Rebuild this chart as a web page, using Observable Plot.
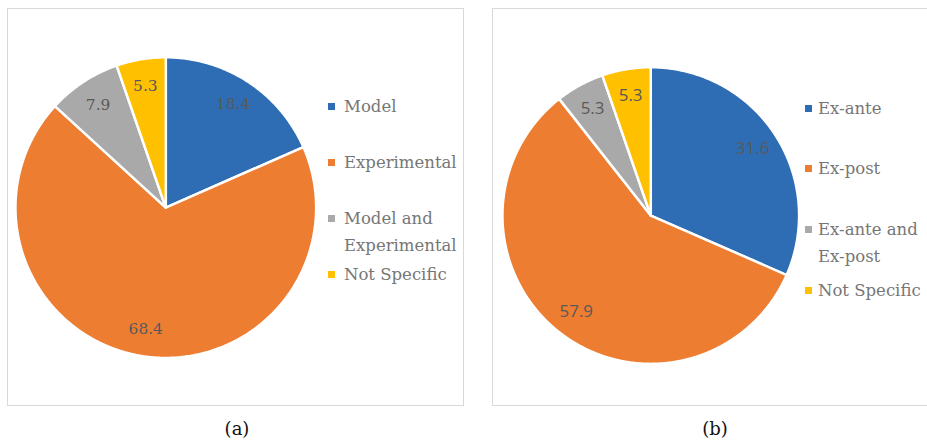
<!DOCTYPE html>
<html>
<head>
<meta charset="utf-8">
<script src="https://cdn.jsdelivr.net/npm/d3@7"></script>
<script src="https://cdn.jsdelivr.net/npm/@observablehq/plot@0.6"></script>
<style>
  html, body { margin: 0; padding: 0; background: #fff; width: 927px; height: 444px; overflow: hidden; }
  .panel { position: absolute; border: 1px solid #d9d9d9; box-sizing: border-box; }
  .panel svg { position: absolute; left: -1px; top: -1px; }
  .leg { position: absolute; font-family: "DejaVu Serif", serif; font-size: 16.5px; color: #767676; line-height: 27px; }
  .leg .sw { position: absolute; width: 7px; height: 7px; }
  .cap { position: absolute; font-family: "DejaVu Serif", serif; font-size: 18px; color: #111; transform: translateX(-50%); }
</style>
</head>
<body>
<div id="root"></div>
<script>
// ---- data ----
const catsA = ["Model", "Experimental", "Model and Experimental", "Not Specific"];
const valsA = [18.4, 68.4, 7.9, 5.3];
const legendA = [["Model"], ["Experimental"], ["Model and", "Experimental"], ["Not Specific"]];

const catsB = ["Ex-ante", "Ex-post", "Ex-ante and Ex-post", "Not Specific"];
const valsB = [31.6, 57.9, 5.3, 5.3];
const legendB = [["Ex-ante"], ["Ex-post"], ["Ex-ante and", "Ex-post"], ["Not Specific"]];

const colors = ["#2E6DB4", "#ED7D31", "#A9A9A9", "#FFC000"];
const captions = ["(a)", "(b)"];

// ---- drawing ----
function pieChart(cats, vals, W, H, cx, cy, r, labelFont, labelSize) {
  const arcs = d3.pie().sort(null).value(d => d)(vals);
  const pts = [];
  arcs.forEach((a, i) => {
    pts.push({k: cats[i], x: 0, y: 0});
    const n = Math.max(2, Math.ceil((a.endAngle - a.startAngle) / 0.01));
    for (let j = 0; j <= n; j++) {
      const t = a.startAngle + (a.endAngle - a.startAngle) * j / n;
      pts.push({k: cats[i], x: Math.sin(t), y: Math.cos(t)});
    }
    pts.push({k: cats[i], x: 0, y: 0});
  });
  const labels = arcs.map((a, i) => {
    const m = (a.startAngle + a.endAngle) / 2;
    return {v: vals[i], x: 0.82 * Math.sin(m), y: 0.82 * Math.cos(m)};
  });
  return Plot.plot({
    width: W, height: H, margin: 0,
    style: {background: "transparent", fontFamily: labelFont},
    x: {domain: [-cx / r, (W - cx) / r], axis: null},
    y: {domain: [-(H - cy) / r, cy / r], axis: null},
    color: {domain: cats, range: colors},
    marks: [
      Plot.line(pts, {x: "x", y: "y", z: "k", fill: "k", stroke: "white", strokeWidth: 2.5, strokeLinejoin: "round", curve: "linear"}),
      Plot.text(labels, {x: "x", y: "y", text: d => d.v.toFixed(1), fill: "#595959", fontSize: labelSize, fontFamily: labelFont})
    ]
  });
}

function panel(opts) {
  const root = document.getElementById("root");
  const box = document.createElement("div");
  box.className = "panel";
  Object.assign(box.style, {left: opts.left + "px", top: opts.top + "px", width: opts.W + "px", height: opts.H + "px"});
  box.appendChild(pieChart(opts.cats, opts.vals, opts.W, opts.H, opts.cx, opts.cy, opts.r, opts.font, opts.size));
  opts.legend.forEach((lines, i) => {
    const item = document.createElement("div");
    item.className = "leg";
    const cyItem = opts.legTop + i * opts.legStep;
    Object.assign(item.style, {left: opts.legX + "px", top: (cyItem - 13.5) + "px"});
    item.innerHTML = lines.map(s => `<div>${s}</div>`).join("");
    const sw = document.createElement("div");
    sw.className = "sw";
    Object.assign(sw.style, {left: (opts.swX - opts.legX) + "px", top: "10px", background: colors[i]});
    item.appendChild(sw);
    box.appendChild(item);
  });
  root.appendChild(box);
  const cap = document.createElement("div");
  cap.className = "cap";
  cap.textContent = opts.caption;
  Object.assign(cap.style, {left: opts.capX + "px", top: "418px"});
  root.appendChild(cap);
}

panel({left: 7, top: 8, W: 457, H: 398, cx: 159, cy: 200, r: 151,
  cats: catsA, vals: valsA, legend: legendA, font: "'DejaVu Serif', serif", size: 15.5,
  legX: 336, swX: 320, legTop: 97, legStep: 56.3, caption: captions[0], capX: 237});

panel({left: 492, top: 8, W: 440, H: 398, cx: 159, cy: 208, r: 149,
  cats: catsB, vals: valsB, legend: legendB, font: "'Open Sans', sans-serif", size: 17,
  legX: 325, swX: 312, legTop: 99, legStep: 60.7, caption: captions[1], capX: 715});
</script>
</body>
</html>
